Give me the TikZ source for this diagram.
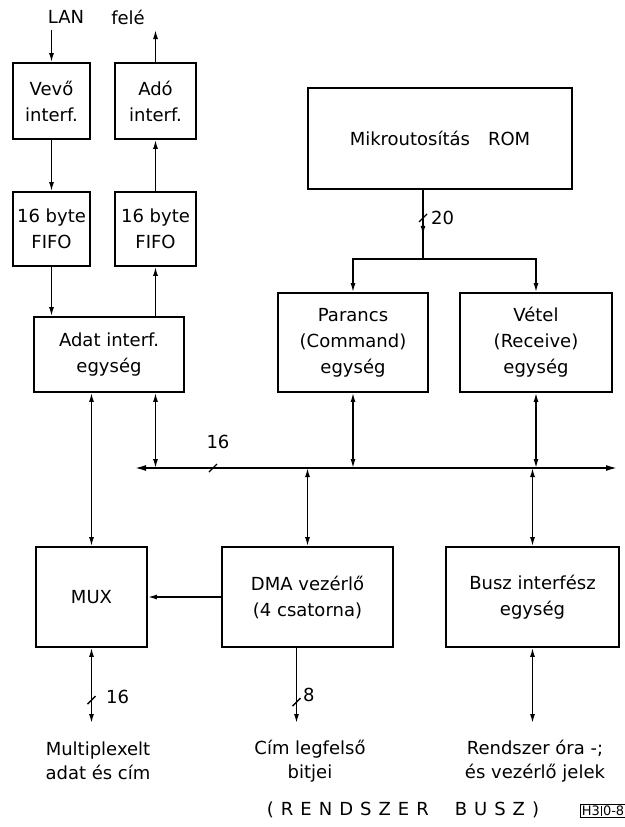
\documentclass[tikz,border=0pt]{standalone}
\usepackage{fontspec}
\setmainfont{DejaVu Sans}
\usetikzlibrary{arrows.meta}
\begin{document}
\begin{tikzpicture}[x=1pt,y=-1pt,
  box/.style={draw, line width=1.8pt, align=center, inner sep=0pt, font=\fontsize{18}{26}\selectfont},
  lbl/.style={align=center, inner sep=0pt, font=\fontsize{18}{24}\selectfont},
  conn/.style={line width=1.4pt},
  arr/.style={-{Latex[length=9pt,width=5pt]}},
  darr/.style={{Latex[length=9pt,width=5pt]}-{Latex[length=9pt,width=5pt]}}
]
\useasboundingbox (0,0) rectangle (624,827);
% boxes
\node[box, minimum width=77pt, minimum height=76pt] (vevo) at (51.5,101) {Vevő\\interf.};
\node[box, minimum width=81pt, minimum height=76pt] (ado) at (155.5,101) {Adó\\interf.};
\node[box, minimum width=77pt, minimum height=74pt] (fifo1) at (51.5,229) {16 byte\\FIFO};
\node[box, minimum width=81pt, minimum height=74pt] (fifo2) at (155.5,229) {16 byte\\FIFO};
\node[box, minimum width=150pt, minimum height=75pt] (adat) at (109,354.5) {Adat interf.\\egység};
\node[box, minimum width=264pt, minimum height=101pt] (rom) at (440,138.5) {Mikroutosítás\quad ROM};
\node[box, minimum width=150pt, minimum height=99pt] (parancs) at (353,342.5) {Parancs\\(Command)\\egység};
\node[box, minimum width=152pt, minimum height=99pt] (vetel) at (536,342.5) {Vétel\\(Receive)\\egység};
\node[box, minimum width=111pt, minimum height=100pt] (mux) at (91.5,597) {MUX};
\node[box, minimum width=171pt, minimum height=100pt] (dma) at (307.5,597) {DMA vezérlő\\(4 csatorna)};
\node[box, minimum width=173pt, minimum height=100pt] (busz) at (532.5,597) {Busz interfész\\egység};
% top labels
\node[lbl] (lan) at (66,17) {LAN};
\node[lbl] (fele) at (128,17) {felé};
\coordinate (lanin) at (51.5,30);
\coordinate (lanout) at (155.5,30);
\draw[conn,arr] (lanin) -- (vevo.north);
\draw[conn,arr] (ado.north) -- (lanout);
\draw[conn,arr] (vevo.south) -- (fifo1.north);
\draw[conn,arr] (fifo2.north) -- (ado.south);
\draw[conn,arr] (fifo1.south) -- (fifo1.south |- adat.north);
\draw[conn,arr] (fifo2.south |- adat.north) -- (fifo2.south);
% bus
\coordinate (busL) at (135,468);
\coordinate (busR) at (617,468);
\draw[conn,line width=1.6pt,{Latex[length=11pt,width=6pt]}-{Latex[length=11pt,width=6pt]}] (busL) -- (busR);
\draw[conn] (209,472) -- (217,464);
\node[lbl] (b16) at (218,442) {16};
\draw[conn,darr] (mux.north |- adat.south) -- (mux.north);
\draw[conn,darr] (fifo2.south |- adat.south) -- (fifo2.south |- busL);
\draw[conn,darr] (parancs.south) -- (parancs.south |- busL);
\draw[conn,darr] (vetel.south) -- (vetel.south |- busL);
\draw[conn,darr] (dma.north |- busL) -- (dma.north);
\draw[conn,darr] (busz.north |- busL) -- (busz.north);
\draw[conn,arr] (dma.west) -- (mux.east);
% ROM distribution
\coordinate (split) at (423,259);
\draw[conn] (rom.south -| split) -- (split);
\draw[conn,arr] (rom.south -| split) -- ++(0,45);
\draw[conn] (419,222) -- (427,214);
\node[lbl, anchor=west] (r20) at (431,218) {20};
\draw[conn,arr] (split) -| (parancs.north);
\draw[conn,arr] (split) -| (vetel.north);
% bottom connections
\coordinate (bottomy) at (0,723);
\draw[conn,darr] (mux.south) -- (mux.south |- bottomy);
\draw[conn] (87.5,704) -- (95.5,696);
\node[lbl, anchor=west] (m16) at (106,697) {16};
\draw[conn,arr] ([xshift=-11pt]dma.south) -- ([xshift=-11pt]dma.south |- bottomy);
\draw[conn] (292.5,706) -- (300.5,698);
\node[lbl, anchor=west] (d8) at (303,695) {8};
\draw[conn,darr] (busz.south) -- (busz.south |- bottomy);
% bottom labels
\node[lbl] (ml) at (98,761) {Multiplexelt\\adat és cím};
\node[lbl] (cl) at (310,761) {Cím legfelső\\bitjei};
\node[lbl] (rl) at (535,761) {Rendszer óra -;\\és vezérlő jelek};
\node[lbl] (rb) at (403,810) {(\hspace{7pt}R\hspace{7pt}E\hspace{7pt}N\hspace{7pt}D\hspace{7pt}S\hspace{7pt}Z\hspace{7pt}E\hspace{7pt}R\hspace{26pt}B\hspace{7pt}U\hspace{7pt}S\hspace{7pt}Z\hspace{7pt})};
\node[draw, line width=1.3pt, inner sep=1.5pt, font=\fontsize{13}{13}\selectfont] (h3) at (603,811) {H3\kern1pt\vrule width 1.2pt\kern1pt 0-8};
\end{tikzpicture}
\end{document}
